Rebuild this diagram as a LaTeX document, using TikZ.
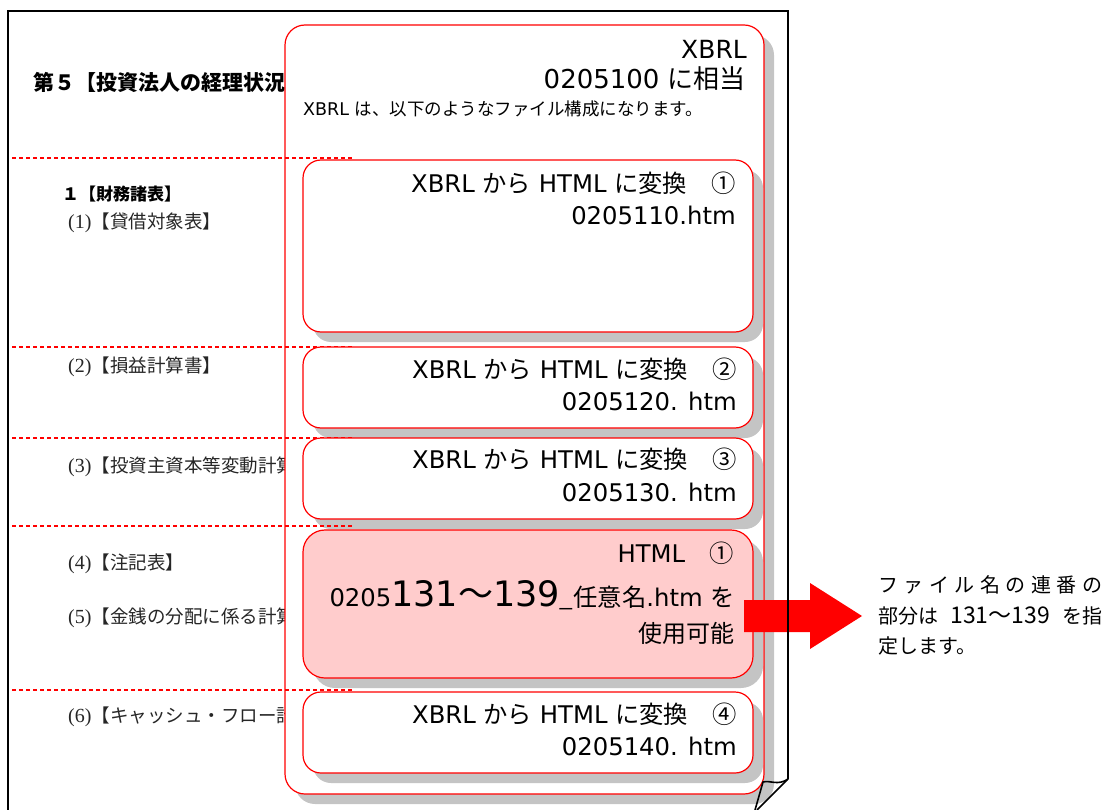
\documentclass[tikz,border=0pt]{standalone}
\usepackage{fontspec}
\setmainfont{DejaVu Sans}
\newfontfamily\jp{Noto Sans CJK JP}
\newfontfamily\sr{Liberation Serif}
\tikzset{
  redbox/.style={draw=red, line width=1.2pt, fill=white},
  shadowfill/.style={fill=black!23},
  dashline/.style={draw=red, dash pattern=on 4pt off 3pt, line width=1.1pt},
  lt/.style={anchor=base west, inner sep=0pt, text=black!85, font=\jp\fontsize{18.5}{18.5}\selectfont},
  bt/.style={anchor=base east, inner sep=0pt, font=\fontsize{24.3}{24.3}\selectfont},
  rt/.style={anchor=base west, inner sep=0pt, font=\jp\fontsize{20}{20}\selectfont},
}
\begin{document}
\begin{tikzpicture}[x=1pt,y=-1pt]
\useasboundingbox (0,0) rectangle (1110,810);
% left column texts
\node[anchor=base west, inner sep=0pt, font=\jp\bfseries\fontsize{21}{21}\selectfont] (t0) at (33,91) {第５【投資法人の経理状況};
\node[anchor=base west, inner sep=0pt, font=\jp\bfseries\fontsize{17}{17}\selectfont] (t1) at (62,201) {１【財務諸表】};
\node[lt] (l1) at (68,229) {{\sr\fontsize{20}{20}\selectfont (1)}【貸借対象表】};
\node[lt] (l2) at (68,372) {{\sr\fontsize{20}{20}\selectfont (2)}【損益計算書】};
\node[lt] (l3) at (68,472) {{\sr\fontsize{20}{20}\selectfont (3)}【投資主資本等変動計算};
\node[lt] (l4) at (68,569) {{\sr\fontsize{20}{20}\selectfont (4)}【注記表】};
\node[lt] (l5) at (68,623) {{\sr\fontsize{20}{20}\selectfont (5)}【金銭の分配に係る計算};
\node[lt] (l6) at (68,722) {{\sr\fontsize{20}{20}\selectfont (6)}【キャッシュ・フロー計};
% outer box
\path[shadowfill, rounded corners=20pt] (295,35) rectangle (774,804);
\path[redbox, rounded corners=20pt] (285,25) rectangle (764,794);
% inner shadows
\path[shadowfill, rounded corners=18pt] (313,170) rectangle (763,342);
\path[shadowfill, rounded corners=18pt] (313,357) rectangle (763,438);
\path[shadowfill, rounded corners=18pt] (313,448) rectangle (763,529);
\path[shadowfill, rounded corners=22pt] (313,540) rectangle (763,688);
\path[shadowfill, rounded corners=18pt] (313,702) rectangle (763,783);
% dashed separators
\foreach \yy in {158,347,438,526,690} \draw[dashline] (12,\yy) -- (352,\yy);
% inner boxes
\path[redbox, rounded corners=18pt] (303,160) rectangle (753,332);
\path[redbox, rounded corners=18pt] (303,347) rectangle (753,428);
\path[redbox, rounded corners=18pt] (303,438) rectangle (753,519);
\path[redbox, fill={rgb,255:red,255;green,204;blue,204}, rounded corners=22pt] (303,530) rectangle (753,678);
\path[redbox, rounded corners=18pt] (303,692) rectangle (753,773);
% top box texts
\node[bt, font=\fontsize{25}{25}\selectfont] (x0) at (747,59) {XBRL};
\node[bt, font=\fontsize{26}{26}\selectfont] (x1) at (746,89) {0205100 {\jp に相当}};
\node[anchor=base west, inner sep=0pt, font=\fontsize{17.5}{17.5}\selectfont] (x2) at (303,116) {XBRL {\jp は、以下のようなファイル構成になります。}};
% box texts
\node[bt] (a1) at (736,193) {XBRL {\jp から} HTML {\jp に変換　①}};
\node[bt] (a2) at (736,225) {0205110.htm};
\node[bt] (b1) at (737,378) {XBRL {\jp から} HTML {\jp に変換　②}};
\node[bt] (b2) at (737,410) {0205120. htm};
\node[bt] (c1) at (737,468) {XBRL {\jp から} HTML {\jp に変換　③}};
\node[bt] (c2) at (737,501) {0205130. htm};
\node[bt] (d1) at (734,562) {HTML{\jp 　①}};
\node[bt] (d2) at (735,606) {0205{\fontsize{35}{35}\selectfont 131{\jp ～}139}{\jp \_任意名}.htm {\jp を}};
\node[bt, font=\jp\fontsize{24}{24}\selectfont] (d3) at (735,642) {使用可能};
\node[bt] (e1) at (737,723) {XBRL {\jp から} HTML {\jp に変換　④}};
\node[bt] (e2) at (737,755) {0205140. htm};
% block arrow
\fill[red] (744,600) -- (810,600) -- (810,583) -- (862,616) -- (810,649) -- (810,632) -- (744,632) -- cycle;
% right note
\node[rt] (n1) at (878,592) {\makebox[224pt][l]{フ\hfill ァ\hfill イ\hfill ル\hfill 名\hfill の\hfill 連\hfill 番\hfill の}};
\node[rt] (n2) at (878,623) {\makebox[224pt][l]{部分は\hfill{\fontsize{23}{23}\selectfont 131～139}\hfill を指}};
\node[rt] (n3) at (878,653) {定します。};
% page border
\draw[line width=2.4pt] (8,810) -- (8,11) -- (788,11) -- (788,779);
\draw[line width=1.6pt] (788,779) .. controls (778,786) and (770,780) .. (763,782) -- (755,810);
\draw[line width=1.6pt] (788,779) -- (757,810);
\end{tikzpicture}
\end{document}
